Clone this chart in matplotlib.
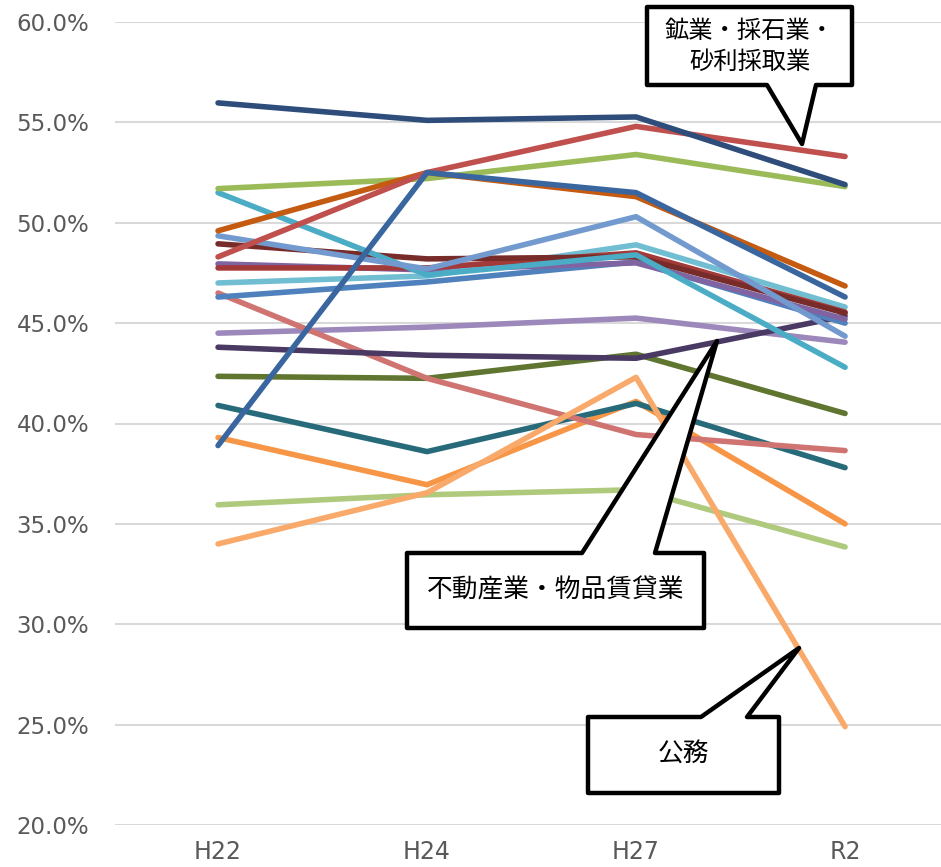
import matplotlib.pyplot as plt
from matplotlib.patches import Polygon
from matplotlib.ticker import PercentFormatter

plt.rcParams['font.family'] = ['DejaVu Sans']

years = ["H22", "H24", "H27", "R2"]

# 各業種の割合
light_green2 = [0.3595, 0.3645, 0.3670, 0.3385]
koumu = [0.3400, 0.3655, 0.4230, 0.2490]          # 公務
orange = [0.3930, 0.3695, 0.4110, 0.3500]
teal = [0.4090, 0.3860, 0.4100, 0.3780]
olive = [0.4235, 0.4225, 0.4345, 0.4050]
fudousan = [0.4380, 0.4340, 0.4325, 0.4535]      # 不動産業・物品賃貸業
lavender = [0.4450, 0.4480, 0.4525, 0.4405]
salmon = [0.4650, 0.4225, 0.3945, 0.3865]
blue = [0.4630, 0.4705, 0.4805, 0.4500]
light_cyan = [0.4700, 0.4735, 0.4890, 0.4580]
red_maroon = [0.4775, 0.4775, 0.4850, 0.4555]
purple = [0.4795, 0.4765, 0.4800, 0.4520]
dark_maroon = [0.4895, 0.4820, 0.4830, 0.4550]
light_blue = [0.4935, 0.4770, 0.5030, 0.4435]
cyan = [0.5150, 0.4740, 0.4840, 0.4280]
orange_brown = [0.4960, 0.5250, 0.5130, 0.4685]
green = [0.5170, 0.5220, 0.5340, 0.5180]
kougyou = [0.4830, 0.5250, 0.5480, 0.5330]       # 鉱業・採石業・砂利採取業
mid_blue = [0.3890, 0.5250, 0.5150, 0.4630]
navy = [0.5597, 0.5510, 0.5527, 0.5190]

series = [
    (light_green2, '#AFCA7D'), (orange, '#F79646'), (teal, '#276A7A'),
    (olive, '#5F7530'), (lavender, '#9C88BA'), (salmon, '#D07472'),
    (koumu, '#F9AA6B'), (fudousan, '#4A3A63'), (blue, '#4F81BD'),
    (purple, '#8064A2'), (light_cyan, '#71BED2'), (red_maroon, '#A33A3A'),
    (dark_maroon, '#772C2A'), (cyan, '#4BACC6'), (light_blue, '#729ACF'),
    (green, '#9BBB59'), (orange_brown, '#C55A11'), (kougyou, '#C0504D'),
    (mid_blue, '#3A66A0'), (navy, '#2E4D7B'),
]

W, H = 941, 867
fig = plt.figure(figsize=(W / 100, H / 100), dpi=100)
ax = fig.add_axes([115 / W, 1 - 825 / H, 1 - 115 / W, (825 - 22) / H])

x = range(len(years))
for vals, col in series:
    ax.plot(x, vals, color=col, lw=4, solid_capstyle='round',
            solid_joinstyle='round', zorder=3)

ax.set_ylim(0.2, 0.6)
ax.set_xlim(-0.493, 3.459)
ax.set_yticks([0.2, 0.25, 0.3, 0.35, 0.4, 0.45, 0.5, 0.55, 0.6])
ax.yaxis.set_major_formatter(PercentFormatter(1.0, decimals=1))
ax.set_xticks(list(x))
ax.set_xticklabels(years)
ax.grid(axis='y', color='#D9D9D9', lw=1.5, zorder=0)
for s in ax.spines.values():
    s.set_visible(False)
ax.tick_params(axis='y', length=0, colors='#595959', labelsize=16.5, pad=-4)
ax.tick_params(axis='x', length=0, colors='#595959', labelsize=17, pad=11)
for lab in ax.get_yticklabels():
    lab.set_horizontalalignment('left')
    lab.set_x(-104 / (W - 115))


# 吹き出し（ピクセル座標で配置）
def callout(box, base, tip, text, side='bottom', size=18.5):
    l, t, r, b = box
    if side == 'bottom':
        pts = [(l, t), (r, t), (r, b), (base[1], b), tip, (base[0], b), (l, b)]
    else:
        pts = [(l, t), (base[0], t), tip, (base[1], t), (r, t), (r, b), (l, b)]
    pts = [(px / W, 1 - py / H) for px, py in pts]
    fig.patches.append(Polygon(pts, closed=True, transform=fig.transFigure,
                               facecolor='white', edgecolor='black', lw=3.2,
                               joinstyle='round', zorder=10))
    fig.text((l + r) / 2 / W, 1 - (t + b) / 2 / H, text, ha='center', va='center',
             fontsize=size, family=['Noto Sans CJK JP', 'DejaVu Sans'],
             linespacing=1.25, zorder=11)


callout((647, 7, 852, 85), (767, 816), (802, 144), "鉱業・採石業・\n砂利採取業", size=17.5)
callout((407, 553, 704, 628), (582, 655), (717, 341), "不動産業・物品賃貸業", side='top')
callout((588, 717, 779, 793), (701, 747), (799, 648), "公務", side='top')

fig.savefig("out.png", dpi=100)
